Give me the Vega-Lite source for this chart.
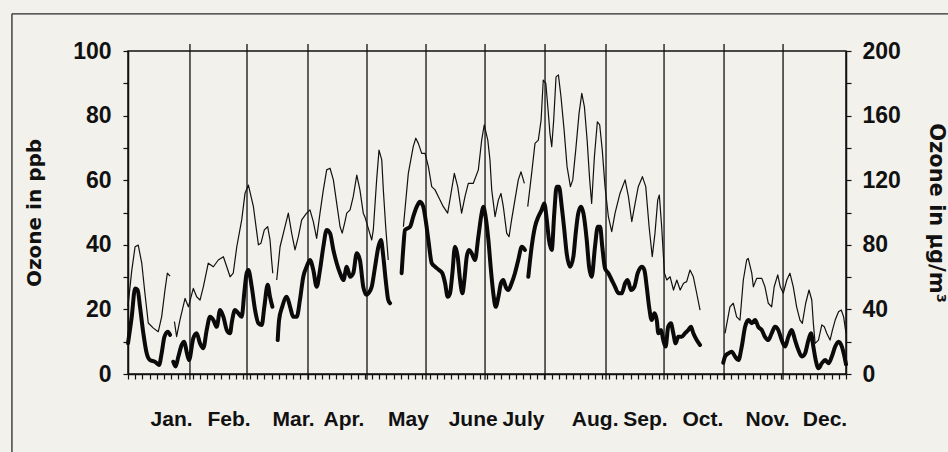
{
"$schema": "https://vega.github.io/schema/vega-lite/v6.json",
"width": 718, "height": 323,
"autosize": {"type": "none"},
"padding": {"left": 128, "top": 51, "right": 102, "bottom": 78},
"background": "#f3f1ec",
"config": {
  "view": {"stroke": "#111", "strokeWidth": 1.5},
  "axis": {"domainColor": "#111", "domainWidth": 1.5, "tickColor": "#111", "tickWidth": 1.2, "labelColor": "#111", "titleColor": "#111", "labelFont": "Liberation Sans", "titleFont": "DejaVu Sans", "labelFontWeight": "bold", "titleFontWeight": "bold", "grid": false}
},
"datasets": {
  "months": [{"d": 31.5}, {"d": 60.5}, {"d": 91.5}, {"d": 121.5}, {"d": 151.5}, {"d": 181.5}, {"d": 212}, {"d": 243}, {"d": 272.5}, {"d": 303}, {"d": 333}],
  "ozone": [
{"s":"max","g":1,"d":0,"v":21},{"s":"max","g":1,"d":1.9,"v":32},{"s":"max","g":1,"d":3.6,"v":39.4},{"s":"max","g":1,"d":5.2,"v":39.9},{"s":"max","g":1,"d":7,"v":34.3},{"s":"max","g":1,"d":8.6,"v":25},{"s":"max","g":1,"d":10.3,"v":15.8},{"s":"max","g":1,"d":12.9,"v":14.2},{"s":"max","g":1,"d":15.4,"v":13.1},{"s":"max","g":1,"d":17.1,"v":17.7},{"s":"max","g":1,"d":18.8,"v":26},{"s":"max","g":1,"d":20,"v":31.2},{"s":"max","g":1,"d":21.4,"v":30.3},
{"s":"max","g":2,"d":23.6,"v":16.2},{"s":"max","g":2,"d":24.7,"v":11.6},{"s":"max","g":2,"d":26.4,"v":16.7},{"s":"max","g":2,"d":29,"v":23.4},{"s":"max","g":2,"d":30.7,"v":20.8},{"s":"max","g":2,"d":33.2,"v":26.5},{"s":"max","g":2,"d":34.9,"v":23.9},{"s":"max","g":2,"d":36.6,"v":22.9},{"s":"max","g":2,"d":38.3,"v":27},{"s":"max","g":2,"d":40.8,"v":34.3},{"s":"max","g":2,"d":43.4,"v":33.2},{"s":"max","g":2,"d":45.9,"v":35.3},{"s":"max","g":2,"d":48.5,"v":36.3},{"s":"max","g":2,"d":50.2,"v":33.2},{"s":"max","g":2,"d":51.9,"v":30.1},{"s":"max","g":2,"d":53.5,"v":31.2},{"s":"max","g":2,"d":55.3,"v":39.4},{"s":"max","g":2,"d":57.8,"v":47.7},{"s":"max","g":2,"d":59.5,"v":56},{"s":"max","g":2,"d":61.2,"v":58.5},{"s":"max","g":2,"d":63.7,"v":52},{"s":"max","g":2,"d":66.3,"v":40},{"s":"max","g":2,"d":67.6,"v":40.5},{"s":"max","g":2,"d":69.3,"v":44.6},{"s":"max","g":2,"d":71,"v":45.6},{"s":"max","g":2,"d":72.2,"v":41.5},{"s":"max","g":2,"d":73,"v":35.3},{"s":"max","g":2,"d":73.6,"v":31.2},
{"s":"max","g":3,"d":75.6,"v":29.1},{"s":"max","g":3,"d":77.3,"v":39.4},{"s":"max","g":3,"d":79.8,"v":45.6},{"s":"max","g":3,"d":81.5,"v":49.8},{"s":"max","g":3,"d":83.2,"v":43.6},{"s":"max","g":3,"d":84.9,"v":38.4},{"s":"max","g":3,"d":86.6,"v":42.5},{"s":"max","g":3,"d":88.3,"v":47.7},{"s":"max","g":3,"d":90.8,"v":49.8},{"s":"max","g":3,"d":92.5,"v":50.8},{"s":"max","g":3,"d":94.2,"v":47.2},{"s":"max","g":3,"d":95.9,"v":42},{"s":"max","g":3,"d":97.6,"v":49.8},{"s":"max","g":3,"d":99.3,"v":57},{"s":"max","g":3,"d":101,"v":63.2},{"s":"max","g":3,"d":102.7,"v":63.7},{"s":"max","g":3,"d":104.4,"v":60.1},{"s":"max","g":3,"d":106.1,"v":52.8},{"s":"max","g":3,"d":107.8,"v":45.6},{"s":"max","g":3,"d":108.9,"v":43.6},{"s":"max","g":3,"d":110.3,"v":47.2},{"s":"max","g":3,"d":111.2,"v":49.8},{"s":"max","g":3,"d":112.9,"v":50.8},{"s":"max","g":3,"d":114.5,"v":54.9},{"s":"max","g":3,"d":116.3,"v":61.6},{"s":"max","g":3,"d":117.9,"v":57},{"s":"max","g":3,"d":119.6,"v":49.8},{"s":"max","g":3,"d":120.5,"v":48.5},{"s":"max","g":3,"d":122.2,"v":45},{"s":"max","g":3,"d":123.9,"v":41.5},{"s":"max","g":3,"d":124.7,"v":44.6},{"s":"max","g":3,"d":126.4,"v":60.1},{"s":"max","g":3,"d":127.6,"v":69.3},{"s":"max","g":3,"d":129,"v":66.3},{"s":"max","g":3,"d":129.8,"v":57},{"s":"max","g":3,"d":131,"v":45.6},{"s":"max","g":3,"d":132.3,"v":35.3},
{"s":"max","g":4,"d":140,"v":45.6},{"s":"max","g":4,"d":142.5,"v":62.1},{"s":"max","g":4,"d":145,"v":70.4},{"s":"max","g":4,"d":146.3,"v":73},{"s":"max","g":4,"d":147.6,"v":71.4},{"s":"max","g":4,"d":149.3,"v":68.3},{"s":"max","g":4,"d":151,"v":68.3},{"s":"max","g":4,"d":152.7,"v":64.2},{"s":"max","g":4,"d":154.4,"v":58},{"s":"max","g":4,"d":156.1,"v":57},{"s":"max","g":4,"d":157.8,"v":54.9},{"s":"max","g":4,"d":160.3,"v":51.8},{"s":"max","g":4,"d":162.5,"v":49.8},{"s":"max","g":4,"d":164.2,"v":55.9},{"s":"max","g":4,"d":165.9,"v":62.1},{"s":"max","g":4,"d":167.6,"v":58},{"s":"max","g":4,"d":169.6,"v":49.8},{"s":"max","g":4,"d":171.3,"v":54.9},{"s":"max","g":4,"d":173,"v":59},{"s":"max","g":4,"d":175.5,"v":59},{"s":"max","g":4,"d":178.1,"v":63.2},{"s":"max","g":4,"d":179.8,"v":72.4},{"s":"max","g":4,"d":181.1,"v":77.1},{"s":"max","g":4,"d":182.9,"v":72.4},{"s":"max","g":4,"d":184,"v":66.3},{"s":"max","g":4,"d":184.9,"v":57},{"s":"max","g":4,"d":186.6,"v":48.7},{"s":"max","g":4,"d":188.3,"v":53.9},{"s":"max","g":4,"d":189.6,"v":55.9},{"s":"max","g":4,"d":190.8,"v":51.8},{"s":"max","g":4,"d":192.5,"v":43.6},{"s":"max","g":4,"d":193.7,"v":42.5},{"s":"max","g":4,"d":195,"v":47.7},{"s":"max","g":4,"d":196.7,"v":53.9},{"s":"max","g":4,"d":198.4,"v":60.1},{"s":"max","g":4,"d":199.8,"v":62.6},{"s":"max","g":4,"d":201.5,"v":59},
{"s":"max","g":5,"d":203.2,"v":51.8},{"s":"max","g":5,"d":205.2,"v":62.1},{"s":"max","g":5,"d":206.9,"v":71.4},{"s":"max","g":5,"d":208.6,"v":72.4},{"s":"max","g":5,"d":210,"v":78.6},{"s":"max","g":5,"d":211.1,"v":91},{"s":"max","g":5,"d":212.4,"v":90},{"s":"max","g":5,"d":213.4,"v":82.8},{"s":"max","g":5,"d":214.5,"v":74.5},{"s":"max","g":5,"d":215.4,"v":70.4},{"s":"max","g":5,"d":216.4,"v":78.6},{"s":"max","g":5,"d":217.6,"v":92},{"s":"max","g":5,"d":218.8,"v":92.6},{"s":"max","g":5,"d":220.1,"v":85.9},{"s":"max","g":5,"d":221.7,"v":75.5},{"s":"max","g":5,"d":223.2,"v":64.2},{"s":"max","g":5,"d":224.9,"v":58},{"s":"max","g":5,"d":226.1,"v":60.1},{"s":"max","g":5,"d":227.6,"v":69.3},{"s":"max","g":5,"d":229.3,"v":80.7},{"s":"max","g":5,"d":230.7,"v":86.9},{"s":"max","g":5,"d":232,"v":82.8},{"s":"max","g":5,"d":233.4,"v":72.4},{"s":"max","g":5,"d":234.7,"v":60.1},{"s":"max","g":5,"d":235.7,"v":52.8},{"s":"max","g":5,"d":237.1,"v":67.3},{"s":"max","g":5,"d":238.6,"v":78.1},{"s":"max","g":5,"d":239.8,"v":77.1},{"s":"max","g":5,"d":241.1,"v":69.3},{"s":"max","g":5,"d":242.5,"v":58},{"s":"max","g":5,"d":244.2,"v":48.7},{"s":"max","g":5,"d":245.9,"v":44.1},{"s":"max","g":5,"d":247.6,"v":49.8},{"s":"max","g":5,"d":250.1,"v":55.9},{"s":"max","g":5,"d":252.7,"v":60.1},{"s":"max","g":5,"d":254.4,"v":54.9},{"s":"max","g":5,"d":256.1,"v":47.2},{"s":"max","g":5,"d":257.8,"v":52.8},{"s":"max","g":5,"d":259.4,"v":58},{"s":"max","g":5,"d":261.5,"v":61.1},{"s":"max","g":5,"d":263.2,"v":58},{"s":"max","g":5,"d":264.9,"v":45.6},{"s":"max","g":5,"d":266.5,"v":36.3},{"s":"max","g":5,"d":267.9,"v":43.6},{"s":"max","g":5,"d":269.3,"v":53.9},{"s":"max","g":5,"d":270.1,"v":55.4},{"s":"max","g":5,"d":271.3,"v":45.6},{"s":"max","g":5,"d":272.7,"v":31.2},{"s":"max","g":5,"d":273.9,"v":29.1},{"s":"max","g":5,"d":275.6,"v":30.1},{"s":"max","g":5,"d":277.3,"v":26},{"s":"max","g":5,"d":279,"v":29.1},{"s":"max","g":5,"d":280.7,"v":26},{"s":"max","g":5,"d":282.4,"v":28.1},{"s":"max","g":5,"d":284,"v":28.6},{"s":"max","g":5,"d":285.7,"v":32.2},{"s":"max","g":5,"d":287.4,"v":30.1},{"s":"max","g":5,"d":289.1,"v":25},{"s":"max","g":5,"d":290.8,"v":19.8},
{"s":"max","g":6,"d":303.5,"v":12.6},{"s":"max","g":6,"d":306,"v":20.8},{"s":"max","g":6,"d":307.7,"v":21.9},{"s":"max","g":6,"d":309.4,"v":17.7},{"s":"max","g":6,"d":311.1,"v":16.7},{"s":"max","g":6,"d":312.8,"v":29.1},{"s":"max","g":6,"d":314.5,"v":35.3},{"s":"max","g":6,"d":315.3,"v":35.8},{"s":"max","g":6,"d":317.1,"v":31.2},{"s":"max","g":6,"d":317.9,"v":27},{"s":"max","g":6,"d":319.6,"v":29.6},{"s":"max","g":6,"d":322.2,"v":29.6},{"s":"max","g":6,"d":323.8,"v":27},{"s":"max","g":6,"d":325.5,"v":21.9},{"s":"max","g":6,"d":327.2,"v":20.8},{"s":"max","g":6,"d":328.5,"v":27},{"s":"max","g":6,"d":330.3,"v":30.7},{"s":"max","g":6,"d":331.6,"v":27},{"s":"max","g":6,"d":333.1,"v":25},{"s":"max","g":6,"d":334.9,"v":29.1},{"s":"max","g":6,"d":336.5,"v":31.2},{"s":"max","g":6,"d":338.2,"v":27},{"s":"max","g":6,"d":339.9,"v":20.8},{"s":"max","g":6,"d":341.6,"v":16.7},{"s":"max","g":6,"d":342.8,"v":15.7},{"s":"max","g":6,"d":344.5,"v":21.9},{"s":"max","g":6,"d":346.2,"v":26},{"s":"max","g":6,"d":347.6,"v":22.9},{"s":"max","g":6,"d":348.4,"v":15.7},{"s":"max","g":6,"d":349.3,"v":9.5},{"s":"max","g":6,"d":351,"v":10.5},{"s":"max","g":6,"d":352.7,"v":15.2},{"s":"max","g":6,"d":354,"v":14.6},{"s":"max","g":6,"d":355.2,"v":12.6},{"s":"max","g":6,"d":356.9,"v":10.5},{"s":"max","g":6,"d":358.1,"v":13.6},{"s":"max","g":6,"d":359.5,"v":16.7},{"s":"max","g":6,"d":361.2,"v":19.3},{"s":"max","g":6,"d":362.6,"v":19.8},{"s":"max","g":6,"d":363.8,"v":17.7},{"s":"max","g":6,"d":365,"v":12.6},
{"s":"mean","g":1,"d":0,"v":9.5},{"s":"mean","g":1,"d":1.9,"v":17.7},{"s":"mean","g":1,"d":3.6,"v":26.5},{"s":"mean","g":1,"d":4.9,"v":26},{"s":"mean","g":1,"d":6.1,"v":20.8},{"s":"mean","g":1,"d":7.8,"v":12.6},{"s":"mean","g":1,"d":9.5,"v":6.4},{"s":"mean","g":1,"d":11.2,"v":4.3},{"s":"mean","g":1,"d":13.7,"v":3.8},{"s":"mean","g":1,"d":15.8,"v":2.8},{"s":"mean","g":1,"d":17.1,"v":6.4},{"s":"mean","g":1,"d":18.5,"v":11.5},{"s":"mean","g":1,"d":20.2,"v":13.1},{"s":"mean","g":1,"d":21.4,"v":12.1},
{"s":"mean","g":2,"d":23,"v":3.8},{"s":"mean","g":2,"d":24.2,"v":2.3},{"s":"mean","g":2,"d":25.6,"v":5.4},{"s":"mean","g":2,"d":27.3,"v":9},{"s":"mean","g":2,"d":28.6,"v":10},{"s":"mean","g":2,"d":29.8,"v":6.9},{"s":"mean","g":2,"d":31,"v":4.3},{"s":"mean","g":2,"d":33.2,"v":11.1},{"s":"mean","g":2,"d":34.9,"v":12.6},{"s":"mean","g":2,"d":36.6,"v":9.5},{"s":"mean","g":2,"d":38.3,"v":8},{"s":"mean","g":2,"d":40,"v":13.6},{"s":"mean","g":2,"d":41.7,"v":17.7},{"s":"mean","g":2,"d":43.4,"v":16.7},{"s":"mean","g":2,"d":45.1,"v":14.6},{"s":"mean","g":2,"d":46.8,"v":19.8},{"s":"mean","g":2,"d":48.5,"v":17.7},{"s":"mean","g":2,"d":50.2,"v":13.6},{"s":"mean","g":2,"d":51.9,"v":12.6},{"s":"mean","g":2,"d":52.7,"v":15.7},{"s":"mean","g":2,"d":54.4,"v":19.8},{"s":"mean","g":2,"d":56.1,"v":18.8},{"s":"mean","g":2,"d":57.8,"v":17.7},{"s":"mean","g":2,"d":59.1,"v":25},{"s":"mean","g":2,"d":60.3,"v":31.2},{"s":"mean","g":2,"d":61.2,"v":32.2},{"s":"mean","g":2,"d":62.9,"v":27},{"s":"mean","g":2,"d":64.6,"v":19.8},{"s":"mean","g":2,"d":66.3,"v":15.7},{"s":"mean","g":2,"d":68,"v":15.2},{"s":"mean","g":2,"d":69.3,"v":20.8},{"s":"mean","g":2,"d":71,"v":27.6},{"s":"mean","g":2,"d":72.2,"v":23.9},{"s":"mean","g":2,"d":73.4,"v":20.8},
{"s":"mean","g":3,"d":76.1,"v":10.5},{"s":"mean","g":3,"d":76.8,"v":16.7},{"s":"mean","g":3,"d":78.4,"v":20.8},{"s":"mean","g":3,"d":80.7,"v":23.9},{"s":"mean","g":3,"d":82.4,"v":20.8},{"s":"mean","g":3,"d":84,"v":17.7},{"s":"mean","g":3,"d":85.8,"v":17.7},{"s":"mean","g":3,"d":87.4,"v":22.9},{"s":"mean","g":3,"d":89.1,"v":30.1},{"s":"mean","g":3,"d":90.8,"v":33.2},{"s":"mean","g":3,"d":92.5,"v":35.3},{"s":"mean","g":3,"d":94.2,"v":32.2},{"s":"mean","g":3,"d":95.9,"v":27},{"s":"mean","g":3,"d":97.6,"v":32.2},{"s":"mean","g":3,"d":99.3,"v":39.4},{"s":"mean","g":3,"d":101,"v":44.6},{"s":"mean","g":3,"d":102.7,"v":43.6},{"s":"mean","g":3,"d":104.4,"v":38.4},{"s":"mean","g":3,"d":106.1,"v":34.3},{"s":"mean","g":3,"d":107.8,"v":31.2},{"s":"mean","g":3,"d":109.5,"v":29.1},{"s":"mean","g":3,"d":111.2,"v":33.2},{"s":"mean","g":3,"d":112.9,"v":30.1},{"s":"mean","g":3,"d":114.5,"v":31.2},{"s":"mean","g":3,"d":116.3,"v":37.4},{"s":"mean","g":3,"d":117.9,"v":35.3},{"s":"mean","g":3,"d":119.6,"v":27},{"s":"mean","g":3,"d":121.3,"v":24.5},{"s":"mean","g":3,"d":122.2,"v":25},{"s":"mean","g":3,"d":123.9,"v":27},{"s":"mean","g":3,"d":125.6,"v":33.2},{"s":"mean","g":3,"d":127.3,"v":39.4},{"s":"mean","g":3,"d":128.6,"v":41.5},{"s":"mean","g":3,"d":129.8,"v":36.3},{"s":"mean","g":3,"d":131,"v":29.1},{"s":"mean","g":3,"d":132.3,"v":22.9},{"s":"mean","g":3,"d":133.2,"v":21.9},
{"s":"mean","g":4,"d":139.1,"v":31.2},{"s":"mean","g":4,"d":140,"v":39.4},{"s":"mean","g":4,"d":140.8,"v":44.6},{"s":"mean","g":4,"d":143.4,"v":45.6},{"s":"mean","g":4,"d":145,"v":48.7},{"s":"mean","g":4,"d":146.8,"v":51.8},{"s":"mean","g":4,"d":148.4,"v":53.3},{"s":"mean","g":4,"d":150.1,"v":51.8},{"s":"mean","g":4,"d":151.3,"v":47.7},{"s":"mean","g":4,"d":152.7,"v":41.5},{"s":"mean","g":4,"d":154.4,"v":34.3},{"s":"mean","g":4,"d":156.1,"v":33.2},{"s":"mean","g":4,"d":158.1,"v":32.2},{"s":"mean","g":4,"d":159.8,"v":31.2},{"s":"mean","g":4,"d":161.2,"v":28.1},{"s":"mean","g":4,"d":162.5,"v":23.9},{"s":"mean","g":4,"d":163.7,"v":25},{"s":"mean","g":4,"d":164.9,"v":31.2},{"s":"mean","g":4,"d":166.2,"v":39.4},{"s":"mean","g":4,"d":167.6,"v":36.3},{"s":"mean","g":4,"d":168.8,"v":29.1},{"s":"mean","g":4,"d":170,"v":25},{"s":"mean","g":4,"d":171,"v":29.1},{"s":"mean","g":4,"d":172.2,"v":36.3},{"s":"mean","g":4,"d":173.4,"v":38.4},{"s":"mean","g":4,"d":174.7,"v":37.4},{"s":"mean","g":4,"d":176.4,"v":35.3},{"s":"mean","g":4,"d":178.1,"v":42.5},{"s":"mean","g":4,"d":179.8,"v":49.8},{"s":"mean","g":4,"d":180.6,"v":51.8},{"s":"mean","g":4,"d":181.8,"v":48.7},{"s":"mean","g":4,"d":183.2,"v":41.5},{"s":"mean","g":4,"d":184.5,"v":32.2},{"s":"mean","g":4,"d":185.7,"v":25},{"s":"mean","g":4,"d":186.9,"v":20.8},{"s":"mean","g":4,"d":188.3,"v":23.9},{"s":"mean","g":4,"d":189.6,"v":28.1},{"s":"mean","g":4,"d":190.8,"v":29.1},{"s":"mean","g":4,"d":192,"v":27},{"s":"mean","g":4,"d":193.3,"v":26},{"s":"mean","g":4,"d":195,"v":28.1},{"s":"mean","g":4,"d":196.7,"v":31.2},{"s":"mean","g":4,"d":198.4,"v":35.3},{"s":"mean","g":4,"d":200.2,"v":39.4},{"s":"mean","g":4,"d":201.8,"v":38.4},
{"s":"mean","g":5,"d":203.5,"v":30.1},{"s":"mean","g":5,"d":205.2,"v":39.4},{"s":"mean","g":5,"d":206.9,"v":45.6},{"s":"mean","g":5,"d":208.6,"v":48.7},{"s":"mean","g":5,"d":210.3,"v":50.8},{"s":"mean","g":5,"d":211.6,"v":52.8},{"s":"mean","g":5,"d":212.9,"v":47.7},{"s":"mean","g":5,"d":214,"v":41.5},{"s":"mean","g":5,"d":215.4,"v":38.4},{"s":"mean","g":5,"d":216.7,"v":49.8},{"s":"mean","g":5,"d":217.9,"v":58},{"s":"mean","g":5,"d":219.1,"v":58},{"s":"mean","g":5,"d":220.5,"v":51.8},{"s":"mean","g":5,"d":221.8,"v":44.6},{"s":"mean","g":5,"d":223,"v":37.4},{"s":"mean","g":5,"d":224.7,"v":33.2},{"s":"mean","g":5,"d":226.4,"v":36.3},{"s":"mean","g":5,"d":227.6,"v":43.6},{"s":"mean","g":5,"d":228.9,"v":49.8},{"s":"mean","g":5,"d":230.3,"v":51.8},{"s":"mean","g":5,"d":231.5,"v":49.8},{"s":"mean","g":5,"d":233.2,"v":41.5},{"s":"mean","g":5,"d":234.4,"v":33.2},{"s":"mean","g":5,"d":235.7,"v":30.1},{"s":"mean","g":5,"d":237.4,"v":39.4},{"s":"mean","g":5,"d":238.8,"v":45.6},{"s":"mean","g":5,"d":240,"v":45.6},{"s":"mean","g":5,"d":241.1,"v":39.4},{"s":"mean","g":5,"d":242.5,"v":32.7},{"s":"mean","g":5,"d":244.2,"v":31.2},{"s":"mean","g":5,"d":245.9,"v":29.1},{"s":"mean","g":5,"d":247.6,"v":27},{"s":"mean","g":5,"d":249.3,"v":25},{"s":"mean","g":5,"d":251,"v":25},{"s":"mean","g":5,"d":252.7,"v":28.1},{"s":"mean","g":5,"d":254,"v":29.1},{"s":"mean","g":5,"d":255.7,"v":26},{"s":"mean","g":5,"d":257.4,"v":27},{"s":"mean","g":5,"d":259.1,"v":31.2},{"s":"mean","g":5,"d":261.2,"v":33.2},{"s":"mean","g":5,"d":262.5,"v":32.2},{"s":"mean","g":5,"d":263.7,"v":27},{"s":"mean","g":5,"d":264.9,"v":20.8},{"s":"mean","g":5,"d":266.2,"v":16.7},{"s":"mean","g":5,"d":267.6,"v":18.8},{"s":"mean","g":5,"d":268.8,"v":16.7},{"s":"mean","g":5,"d":269.6,"v":12.6},{"s":"mean","g":5,"d":271,"v":13.6},{"s":"mean","g":5,"d":272.1,"v":10.5},{"s":"mean","g":5,"d":273.3,"v":8.5},{"s":"mean","g":5,"d":274.6,"v":14.6},{"s":"mean","g":5,"d":276,"v":15.7},{"s":"mean","g":5,"d":277.2,"v":12.6},{"s":"mean","g":5,"d":278.4,"v":9.5},{"s":"mean","g":5,"d":279.7,"v":11.5},{"s":"mean","g":5,"d":281.4,"v":11.5},{"s":"mean","g":5,"d":283.1,"v":12.6},{"s":"mean","g":5,"d":284.8,"v":13.6},{"s":"mean","g":5,"d":286.2,"v":14.6},{"s":"mean","g":5,"d":287.4,"v":12.6},{"s":"mean","g":5,"d":289.1,"v":10.5},{"s":"mean","g":5,"d":290.8,"v":9},
{"s":"mean","g":6,"d":302.6,"v":3.5},{"s":"mean","g":6,"d":303.5,"v":5.4},{"s":"mean","g":6,"d":305.2,"v":6.4},{"s":"mean","g":6,"d":306.9,"v":6.9},{"s":"mean","g":6,"d":308.6,"v":5.4},{"s":"mean","g":6,"d":310.3,"v":4.3},{"s":"mean","g":6,"d":312,"v":8.5},{"s":"mean","g":6,"d":313.7,"v":14.6},{"s":"mean","g":6,"d":315.4,"v":16.7},{"s":"mean","g":6,"d":317.1,"v":15.7},{"s":"mean","g":6,"d":318.8,"v":16.7},{"s":"mean","g":6,"d":320.4,"v":14.6},{"s":"mean","g":6,"d":322.2,"v":13.6},{"s":"mean","g":6,"d":323.8,"v":11.5},{"s":"mean","g":6,"d":325.5,"v":10.5},{"s":"mean","g":6,"d":327.2,"v":12.6},{"s":"mean","g":6,"d":328.9,"v":14.6},{"s":"mean","g":6,"d":330.6,"v":13.6},{"s":"mean","g":6,"d":332.3,"v":10.5},{"s":"mean","g":6,"d":334,"v":8.5},{"s":"mean","g":6,"d":335.7,"v":11.5},{"s":"mean","g":6,"d":337.4,"v":13.6},{"s":"mean","g":6,"d":339.1,"v":10.5},{"s":"mean","g":6,"d":340.8,"v":7.4},{"s":"mean","g":6,"d":342.5,"v":5.4},{"s":"mean","g":6,"d":344.2,"v":6.4},{"s":"mean","g":6,"d":345.9,"v":10.5},{"s":"mean","g":6,"d":347.2,"v":12.6},{"s":"mean","g":6,"d":348.4,"v":8.5},{"s":"mean","g":6,"d":349.6,"v":4.3},{"s":"mean","g":6,"d":351,"v":1.8},{"s":"mean","g":6,"d":352.7,"v":3.3},{"s":"mean","g":6,"d":354.4,"v":4.3},{"s":"mean","g":6,"d":356.1,"v":3.3},{"s":"mean","g":6,"d":357.8,"v":5.4},{"s":"mean","g":6,"d":359.5,"v":8.5},{"s":"mean","g":6,"d":361.2,"v":10},{"s":"mean","g":6,"d":362.9,"v":8.5},{"s":"mean","g":6,"d":364.2,"v":5.4},{"s":"mean","g":6,"d":365,"v":3}
  ]
},
"layer": [
  {
    "layer": [
      {
        "data": {"values": [{}]},
        "mark": {"type": "rule", "color": "#2a2a2a", "strokeWidth": 1.3},
        "encoding": {"x": {"datum": -59, "type": "quantitative"}, "x2": {"datum": 420}, "y": {"datum": 111.5, "type": "quantitative"}}
      },
      {
        "data": {"values": [{}]},
        "mark": {"type": "rule", "color": "#2a2a2a", "strokeWidth": 1.3},
        "encoding": {"x": {"datum": -59, "type": "quantitative"}, "y": {"datum": 111.5, "type": "quantitative"}, "y2": {"datum": -40}}
      },
      {
        "data": {"name": "months"},
        "mark": {"type": "rule", "color": "#111", "strokeWidth": 1.3},
        "encoding": {"x": {"field": "d", "type": "quantitative"}, "y": {"datum": 102.2, "type": "quantitative"}, "y2": {"datum": -1.8}}
      },
      {
        "data": {"name": "ozone"},
        "transform": [{"filter": "datum.s == 'max'"}],
        "mark": {"type": "line", "color": "#111", "strokeWidth": 1.2, "strokeJoin": "round"},
        "encoding": {
          "x": {"field": "d", "type": "quantitative", "scale": {"domain": [0, 365], "nice": false, "zero": false},
            "axis": {"title": null, "tickCount": 500, "tickSize": 5, "labelPadding": 29, "labelFontSize": 21, "labelFlush": false, "labelOverlap": false, "labelBound": false,
              "values": [0,3.65,7.3,10.95,14.6,18.25,21.9,25.55,29.2,32.85,36.5,40.15,43.8,47.45,51.1,54.75,58.4,62.05,65.7,69.35,73,76.65,80.3,83.95,87.6,91.25,94.9,98.55,102.2,105.85,109.5,113.15,116.8,120.45,124.1,127.75,131.4,135.05,138.7,142.35,146,149.65,153.3,156.95,160.6,164.25,167.9,171.55,175.2,178.85,182.5,186.15,189.8,193.45,197.1,200.75,204.4,208.05,211.7,215.35,219,222.65,226.3,229.95,233.6,237.25,240.9,244.55,248.2,251.85,255.5,259.15,262.8,266.45,270.1,273.75,277.4,281.05,284.7,288.35,292,295.65,299.3,302.95,306.6,310.25,313.9,317.55,321.2,324.85,328.5,332.15,335.8,339.45,343.1,346.75,350.4,354.05,357.7,361.35,365],
              "labelExpr": "abs(datum.value-21.9)<0.1 ? 'Jan.' : abs(datum.value-51.1)<0.1 ? 'Feb.' : abs(datum.value-83.95)<0.1 ? 'Mar.' : abs(datum.value-109.5)<0.1 ? 'Apr.' : abs(datum.value-142.35)<0.1 ? 'May' : abs(datum.value-175.2)<0.1 ? 'June' : abs(datum.value-200.75)<0.1 ? 'July' : abs(datum.value-237.25)<0.1 ? 'Aug.' : abs(datum.value-262.8)<0.1 ? 'Sep.' : abs(datum.value-292)<0.1 ? 'Oct.' : abs(datum.value-324.85)<0.1 ? 'Nov.' : abs(datum.value-354.05)<0.1 ? 'Dec.' : ''"}},
          "y": {"field": "v", "type": "quantitative", "scale": {"domain": [0, 100], "nice": false, "zero": false},
            "axis": {"title": "Ozone in ppb", "format": "d", "tickCount": 500, "values": [0,10,20,30,40,50,60,70,80,90,100], "labelExpr": "datum.value % 20 == 0 ? datum.label : ''", "labelOverlap": false, "tickSize": 5, "labelPadding": 12, "labelFontSize": 23, "titleFontSize": 20, "titlePadding": 28}},
          "detail": {"field": "g", "type": "nominal"}
        }
      },
      {
        "data": {"name": "ozone"},
        "transform": [{"filter": "datum.s == 'mean'"}],
        "mark": {"type": "line", "color": "#0a0a0a", "strokeWidth": 4, "strokeJoin": "round", "strokeCap": "round", "interpolate": "monotone"},
        "encoding": {
          "x": {"field": "d", "type": "quantitative"},
          "y": {"field": "v", "type": "quantitative"},
          "detail": {"field": "g", "type": "nominal"}
        }
      }
    ]
  },
  {
    "data": {"values": [{}]},
    "mark": {"type": "rule", "opacity": 0},
    "encoding": {
      "y": {"datum": 0, "type": "quantitative", "scale": {"domain": [0, 200], "nice": false, "zero": false},
        "axis": {"orient": "right", "title": "Ozone in µg/m³", "format": "d", "tickCount": 500, "values": [0,20,40,60,80,100,120,140,160,180,200], "labelExpr": "datum.value % 40 == 0 ? datum.label : ''", "labelOverlap": false, "tickSize": 5, "labelPadding": 11, "labelFontSize": 23, "titleFontSize": 21, "titlePadding": 25}}
    }
  }
],
"resolve": {"scale": {"y": "independent"}}
}
